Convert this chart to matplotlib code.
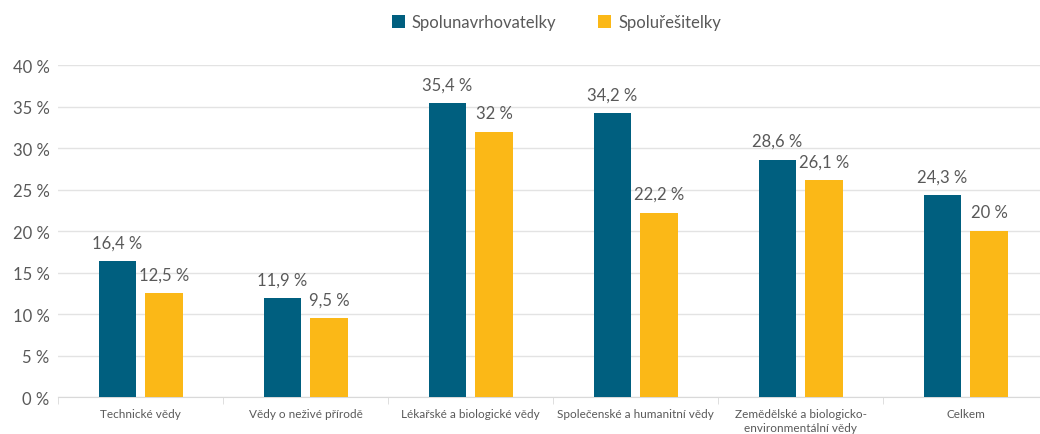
import numpy as np
import matplotlib.pyplot as plt

categories = ["Technické vědy", "Vědy o neživé přírodě", "Lékařské a biologické vědy",
              "Společenské a humanitní vědy", "Zemědělské a biologicko-\nenvironmentální vědy", "Celkem"]
spolunavrhovatelky = [16.4, 11.9, 35.4, 34.2, 28.6, 24.3]
spoluresitelky = [12.5, 9.5, 32, 22.2, 26.1, 20]
series_names = ["Spolunavrhovatelky", "Spoluřešitelky"]
colors = ["#005F7F", "#FBB817"]

plt.rcParams['font.family'] = ['Lato', 'DejaVu Sans']
txt = "#595959"

fig = plt.figure(figsize=(10.4, 4.35), dpi=100)
# the plot area runs a bit past the right edge, as in the original
ax = fig.add_axes([0.0558, 0.085, 0.952, 0.763])

x = np.arange(len(categories))
w = 0.225
off = 0.142

def fmt(v):
    s = f"{v:g}".replace(".", ",")
    return s + " %"

for vals, dx, c, name in [(spolunavrhovatelky, -off, colors[0], series_names[0]),
                          (spoluresitelky, off, colors[1], series_names[1])]:
    bars = ax.bar(x + dx, vals, w, color=c, label=name, zorder=3)
    for b, v in zip(bars, vals):
        ax.text(b.get_x() + b.get_width() / 2, v + 1.3, fmt(v), ha="center", va="bottom",
                fontsize=12, color=txt)

ax.set_xlim(-0.5, len(categories) - 0.5)
ax.set_ylim(0, 40)
ax.set_yticks(range(0, 41, 5))
ax.set_yticklabels([f"{t} %" for t in range(0, 41, 5)], fontsize=12, color=txt)
ax.set_xticks(x)
ax.set_xticklabels(categories, fontsize=8.5, color=txt, linespacing=1.3)
ax.set_xticks(np.arange(-0.5, len(categories), 1), minor=True)
ax.tick_params(axis="x", which="major", length=0, pad=8)
ax.tick_params(axis="x", which="minor", length=5, color="#D9D9D9")
ax.tick_params(axis="y", length=0, pad=6)
ax.grid(axis="y", color="#E3E3E3", linewidth=1, zorder=0)
for s in ["top", "right", "left"]:
    ax.spines[s].set_visible(False)
ax.spines["bottom"].set_color("#D9D9D9")

fig.legend(loc="upper center", bbox_to_anchor=(0.535, 1.0), ncol=2, frameon=False,
           fontsize=12, labelcolor=txt, handlelength=0.8, handleheight=0.8,
           columnspacing=2.5, handletextpad=0.4)

fig.savefig("out.png", dpi=100)
